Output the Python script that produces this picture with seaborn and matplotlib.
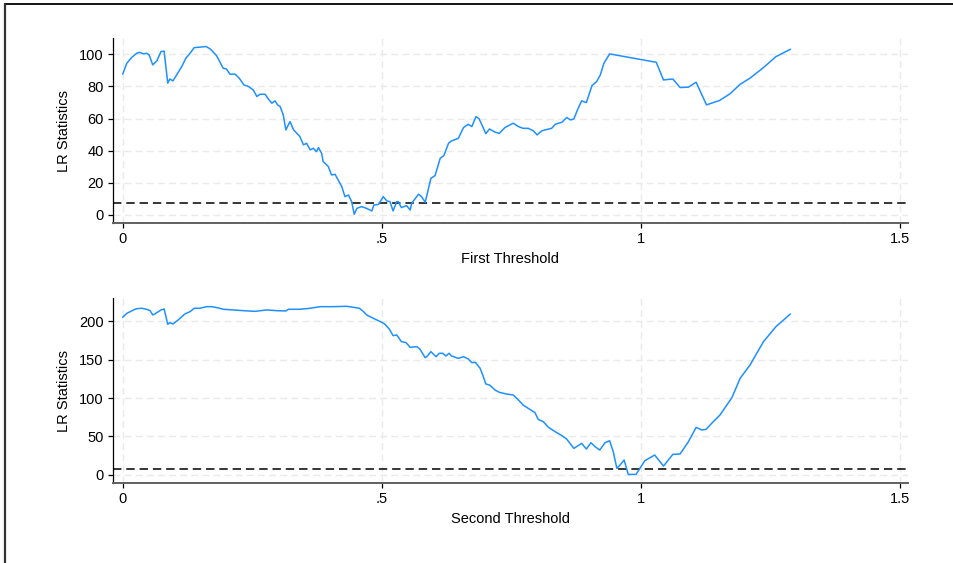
import matplotlib
matplotlib.use("Agg")
import matplotlib.pyplot as plt
import seaborn as sns
import pandas as pd
from matplotlib.lines import Line2D

# ---- data ----
x_first = [0.000, 0.008, 0.017, 0.027, 0.033, 0.040, 0.046, 0.051, 0.058, 0.066, 0.074, 0.080,
           0.087, 0.091, 0.097, 0.104, 0.114, 0.122, 0.130, 0.138, 0.149, 0.161, 0.169, 0.181,
           0.194, 0.200, 0.207, 0.217, 0.225, 0.234, 0.243, 0.252, 0.259, 0.265, 0.275, 0.281,
           0.288, 0.294, 0.299, 0.304, 0.310, 0.315, 0.323, 0.330, 0.336, 0.342, 0.349, 0.355,
           0.362, 0.368, 0.374, 0.378, 0.384, 0.387, 0.397, 0.403, 0.410, 0.416, 0.423, 0.429,
           0.436, 0.442, 0.447, 0.452, 0.461, 0.471, 0.481, 0.485, 0.494, 0.503, 0.510, 0.516,
           0.522, 0.529, 0.532, 0.538, 0.548, 0.555, 0.558, 0.571, 0.577, 0.584, 0.595, 0.603,
           0.613, 0.620, 0.629, 0.635, 0.648, 0.658, 0.667, 0.674, 0.682, 0.688, 0.695, 0.701,
           0.708, 0.719, 0.727, 0.738, 0.754, 0.764, 0.773, 0.783, 0.793, 0.800, 0.809, 0.815,
           0.828, 0.835, 0.848, 0.857, 0.865, 0.871, 0.878, 0.886, 0.895, 0.906, 0.915, 0.922,
           0.929, 0.940, 1.030, 1.044, 1.062, 1.076, 1.092, 1.107, 1.127, 1.152, 1.172, 1.192,
           1.211, 1.237, 1.261, 1.289]
lr_first = [87.6, 94.4, 97.9, 100.6, 101.2, 100.2, 100.6, 99.6, 93.4, 95.9, 101.7, 101.9,
            82.0, 84.6, 83.4, 87.1, 92.3, 97.5, 100.6, 104.1, 104.4, 104.8, 103.3, 99.2,
            91.3, 90.9, 87.6, 87.6, 85.1, 80.9, 79.9, 77.8, 73.7, 75.1, 75.1, 72.2,
            69.5, 71.0, 68.5, 67.4, 62.2, 52.9, 58.1, 52.9, 50.8, 48.8, 43.6, 44.6,
            40.5, 41.5, 39.4, 41.9, 38.4, 33.2, 30.1, 24.9, 25.3, 21.8, 17.6, 11.4,
            12.4, 8.3, 0.4, 4.1, 5.2, 4.1, 2.5, 6.2, 6.6, 11.4, 8.7, 8.3,
            2.5, 8.3, 8.3, 4.6, 5.8, 3.1, 7.3, 12.9, 11.4, 7.9, 22.8, 24.5,
            35.3, 36.9, 44.6, 46.1, 47.7, 54.4, 56.4, 55.0, 61.2, 59.8, 55.0, 50.6,
            53.5, 51.5, 50.8, 54.4, 57.1, 55.0, 53.9, 53.9, 52.3, 49.8, 52.3, 52.9,
            53.9, 56.4, 57.7, 60.6, 59.1, 59.8, 65.4, 71.0, 69.9, 80.5, 83.0, 87.1,
            94.4, 100.2, 95.0, 84.0, 84.6, 79.3, 79.5, 82.6, 68.5, 71.2, 75.3, 81.3,
            85.1, 91.7, 98.5, 103.1]

x_second = [0.000, 0.008, 0.021, 0.027, 0.037, 0.046, 0.053, 0.058, 0.062, 0.074, 0.080, 0.087,
            0.091, 0.097, 0.107, 0.120, 0.130, 0.138, 0.149, 0.162, 0.172, 0.185, 0.194, 0.214,
            0.233, 0.255, 0.278, 0.297, 0.315, 0.320, 0.342, 0.362, 0.381, 0.407, 0.432, 0.445,
            0.457, 0.465, 0.471, 0.484, 0.500, 0.506, 0.515, 0.522, 0.529, 0.538, 0.547, 0.555,
            0.568, 0.574, 0.584, 0.587, 0.595, 0.605, 0.611, 0.618, 0.624, 0.630, 0.635, 0.648,
            0.658, 0.667, 0.674, 0.681, 0.690, 0.695, 0.701, 0.708, 0.719, 0.727, 0.741, 0.754,
            0.764, 0.773, 0.786, 0.796, 0.802, 0.812, 0.822, 0.835, 0.848, 0.857, 0.871, 0.886,
            0.895, 0.904, 0.912, 0.921, 0.931, 0.940, 0.947, 0.954, 0.960, 0.968, 0.976, 0.991,
            1.008, 1.027, 1.044, 1.062, 1.076, 1.092, 1.107, 1.118, 1.126, 1.140, 1.153, 1.176,
            1.192, 1.211, 1.237, 1.261, 1.289]
lr_second = [205.2, 210.4, 214.8, 216.5, 217.0, 215.7, 213.9, 208.3, 209.6, 214.8, 216.1, 196.1,
             198.3, 196.5, 201.7, 209.6, 212.6, 217.0, 217.0, 219.1, 219.1, 217.4, 215.7, 214.8,
             213.9, 213.0, 214.8, 213.9, 213.5, 215.7, 215.7, 217.0, 219.1, 219.1, 219.6, 218.3,
             217.0, 212.6, 208.3, 203.9, 198.7, 196.5, 189.6, 181.3, 182.2, 173.5, 172.2, 166.1,
             167.0, 163.5, 152.6, 153.9, 160.4, 153.9, 158.3, 158.3, 154.8, 158.3, 154.8, 151.7,
             153.9, 150.9, 146.1, 146.5, 138.7, 130.0, 118.3, 117.0, 110.4, 107.4, 105.2, 103.9,
             97.4, 90.9, 85.2, 80.9, 72.2, 69.1, 61.7, 56.1, 50.9, 46.5, 34.3, 40.9,
             33.5, 41.7, 36.5, 32.2, 41.7, 44.3, 30.0, 8.3, 12.6, 19.1, 0.4, 0.4,
             18.3, 25.7, 11.3, 26.5, 27.0, 43.0, 61.7, 58.3, 59.1, 69.1, 77.8, 100.4,
             125.7, 143.0, 173.5, 193.0, 209.6]

critical_value = 7.35
x_ticks = [0, 0.5, 1, 1.5]
x_tick_labels = ["0", ".5", "1", "1.5"]
y_ticks_first = [0, 20, 40, 60, 80, 100]
y_ticks_second = [0, 50, 100, 150, 200]
x_labels = ["First Threshold", "Second Threshold"]
y_label = "LR Statistics"

# ---- drawing ----
sns.set_style("white")
plt.rcParams["font.family"] = ["Liberation Sans", "DejaVu Sans"]
plt.rcParams["text.color"] = "black"
plt.rcParams["axes.labelcolor"] = "black"
plt.rcParams["xtick.color"] = "black"
plt.rcParams["ytick.color"] = "black"

W, H = 954, 563
fig = plt.figure(figsize=(W / 100, H / 100), dpi=100)

def fx(px):
    return px / W

def fy(py):
    return 1 - py / H

left_px, right_px = 113, 908
panels = [
    dict(top=38, bottom=223, x=x_first, y=lr_first, yt=y_ticks_first, ylim=(-5, 110.1),
         xl=x_labels[0]),
    dict(top=298, bottom=483, x=x_second, y=lr_second, yt=y_ticks_second, ylim=(-10.8, 230.4),
         xl=x_labels[1]),
]

line_color = "#1E90FF"
for p in panels:
    ax = fig.add_axes([fx(left_px), fy(p["bottom"]), (right_px - left_px) / W,
                       (p["bottom"] - p["top"]) / H])
    df = pd.DataFrame({"threshold": p["x"], "lr": p["y"]})
    for t in x_ticks:
        ax.axvline(t, color="#EAEAEA", lw=1.0, ls=(0, (5, 3)), zorder=0)
    for t in p["yt"]:
        ax.axhline(t, color="#EAEAEA", lw=1.0, ls=(0, (5, 3)), zorder=0)
    ax.axhline(critical_value, color="black", lw=1.1, ls=(0, (5.5, 3.2)), zorder=2)
    sns.lineplot(data=df, x="threshold", y="lr", ax=ax, color=line_color, lw=1.1,
                 sort=False, estimator=None, zorder=3)
    ax.set_xlim(-0.0187, 1.516)
    ax.set_ylim(*p["ylim"])
    ax.set_xticks(x_ticks)
    ax.set_xticklabels(x_tick_labels)
    ax.set_yticks(p["yt"])
    ax.tick_params(axis="both", direction="out", length=3.8, width=0.9, color="black",
                   labelcolor="black", labelsize=10.5, pad=3, left=True, bottom=True)
    for s in ["top", "right"]:
        ax.spines[s].set_visible(False)
    ax.spines["left"].set_color("black")
    ax.spines["left"].set_linewidth(0.9)
    ax.spines["bottom"].set_color("#606060")
    ax.spines["bottom"].set_linewidth(1.4)
    ax.set_xlabel(p["xl"], fontsize=10.5, labelpad=4, color="black")
    ax.set_ylabel(y_label, fontsize=10.5, labelpad=6, color="black")
    ax.grid(False)

# frame of the original graph region
fig.add_artist(Line2D([fx(5), 1.0], [fy(4), fy(4)], color="black", lw=1.3,
                      transform=fig.transFigure))
fig.add_artist(Line2D([fx(5), fx(5)], [fy(4), 0.0], color="#333333", lw=1.6,
                      transform=fig.transFigure))

fig.savefig("out.png", dpi=100)
